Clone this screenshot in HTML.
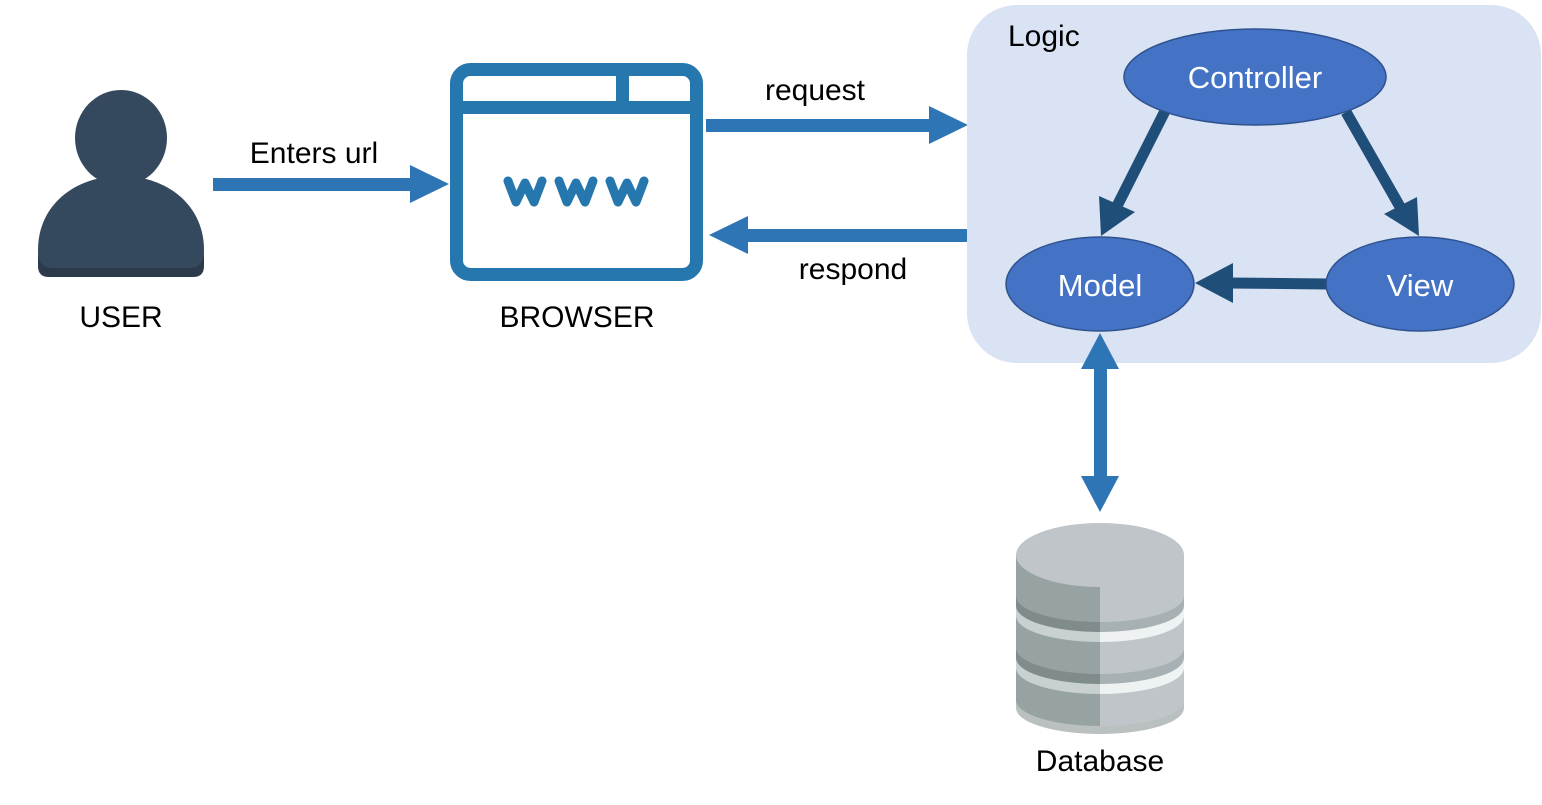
<!DOCTYPE html>
<html><head><style>html,body{margin:0;padding:0;background:#fff}svg{display:block}text{font-family:"Liberation Sans",sans-serif}</style></head><body>
<svg width="1542" height="805" viewBox="0 0 1542 805" xmlns="http://www.w3.org/2000/svg">
<!-- user -->
<path d="M38,258 C38,210 75,178 121,178 C167,178 204,210 204,258 L204,266 Q204,277 193,277 L49,277 Q38,277 38,266 Z" fill="#2c3a4c"/>
<path d="M38,250 C38,205 75,176 121,176 C167,176 204,205 204,250 Q204,268 190,268 L52,268 Q38,268 38,250 Z" fill="#35495e"/>
<ellipse cx="121" cy="138" rx="46" ry="48" fill="#35495e"/>
<text x="121" y="327" font-size="30" text-anchor="middle">USER</text>
<!-- enters url -->
<rect x="213" y="178" width="200" height="13" fill="#2e75b6"/>
<polygon points="410,165 449,184 410,203" fill="#2e75b6"/>
<text x="314" y="163" font-size="30" text-anchor="middle">Enters url</text>
<!-- browser -->
<rect x="456.5" y="69.5" width="240" height="205" rx="14" fill="none" stroke="#2577ae" stroke-width="13"/>
<rect x="456" y="101" width="241" height="13" fill="#2577ae"/>
<rect x="616" y="70" width="13" height="36" fill="#2577ae"/>
<g fill="none" stroke="#2577ae" stroke-width="9" stroke-linecap="round" stroke-linejoin="round">
<polyline points="508,181 516,202 525,183 534,202 542,181"/>
<polyline points="559,181 567,202 576,183 585,202 593,181"/>
<polyline points="610,181 618,202 627,183 636,202 644,181"/>
</g>
<text x="577" y="327" font-size="30" text-anchor="middle">BROWSER</text>
<!-- request/respond -->
<rect x="706" y="119" width="226" height="13" fill="#2e75b6"/>
<polygon points="929,106 968,125 929,144" fill="#2e75b6"/>
<text x="815" y="100" font-size="30" text-anchor="middle">request</text>
<rect x="746" y="229" width="221" height="13" fill="#2e75b6"/>
<polygon points="748,216 709,235 748,254" fill="#2e75b6"/>
<text x="853" y="279" font-size="30" text-anchor="middle">respond</text>
<!-- logic -->
<rect x="967" y="5" width="574" height="358" rx="50" fill="#dae3f3"/>
<text x="1008" y="46" font-size="30">Logic</text>
<g stroke="#1f4e79" stroke-width="11">
<line x1="1165" y1="111" x2="1114" y2="212"/>
<line x1="1346" y1="112" x2="1403" y2="212"/>
<line x1="1327" y1="284" x2="1228" y2="283"/>
</g>
<g fill="#1f4e79">
<polygon points="1101,236 1099,196 1135,212"/>
<polygon points="1419,236 1384,214 1417,197"/>
<polygon points="1195,283 1233,263 1233,303"/>
</g>
<g fill="#4472c4" stroke="#2f528f" stroke-width="1.5">
<ellipse cx="1255" cy="77" rx="131" ry="48"/>
<ellipse cx="1100" cy="284" rx="94" ry="47"/>
<ellipse cx="1420" cy="284" rx="94" ry="47"/>
</g>
<g fill="#fff" font-size="31" text-anchor="middle">
<text x="1255" y="88">Controller</text>
<text x="1100" y="296">Model</text>
<text x="1420" y="296">View</text>
</g>
<!-- double arrow -->
<rect x="1094" y="365" width="13" height="115" fill="#2e75b6"/>
<polygon points="1081,369 1100,333 1119,369" fill="#2e75b6"/>
<polygon points="1081,476 1100,512 1119,476" fill="#2e75b6"/>
<!-- database -->
<path d="M1016,555 L1016,700 A84,26 0 0 0 1184,700 L1184,555 Z" fill="#bfc5c8"/>
<path d="M1016,555 L1016,700 A84,26 0 0 0 1100,726 L1100,555 Z" fill="#96a3a2"/>
<path d="M1016,596 A84,26 0 0 0 1100,622 L1100,632 A84,26 0 0 1 1016,606 Z" fill="#7f8c8b"/>
<path d="M1100,622 A84,26 0 0 0 1184,596 L1184,606 A84,26 0 0 1 1100,632 Z" fill="#a7b0b3"/>
<path d="M1016,606 A84,26 0 0 0 1100,632 L1100,642 A84,26 0 0 1 1016,616 Z" fill="#c9d0d1"/>
<path d="M1100,632 A84,26 0 0 0 1184,606 L1184,616 A84,26 0 0 1 1100,642 Z" fill="#eef2f2"/>
<path d="M1016,648 A84,26 0 0 0 1100,674 L1100,684 A84,26 0 0 1 1016,658 Z" fill="#7f8c8b"/>
<path d="M1100,674 A84,26 0 0 0 1184,648 L1184,658 A84,26 0 0 1 1100,684 Z" fill="#a7b0b3"/>
<path d="M1016,658 A84,26 0 0 0 1100,684 L1100,694 A84,26 0 0 1 1016,668 Z" fill="#c9d0d1"/>
<path d="M1100,684 A84,26 0 0 0 1184,658 L1184,668 A84,26 0 0 1 1100,694 Z" fill="#eef2f2"/>
<path d="M1016,700 A84,26 0 0 0 1184,700 L1184,708 A84,26 0 0 1 1016,708 Z" fill="#8a9695" opacity="0.6"/>
<ellipse cx="1100" cy="555" rx="84" ry="32" fill="#bfc5c8"/>
<text x="1100" y="771" font-size="30" text-anchor="middle">Database</text>
</svg>
</body></html>
